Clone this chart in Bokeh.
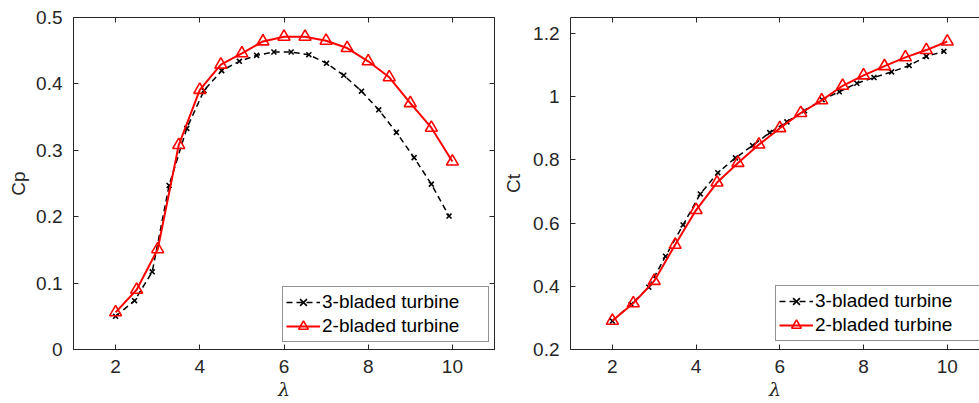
from bokeh.plotting import figure
from bokeh.layouts import row
from bokeh.models import LinearAxis, FixedTicker, Legend, LegendItem, Range1d
from bokeh.embed import file_html
from bokeh.resources import INLINE

# ---- data ----
lam3 = [2.0, 2.45, 2.87, 3.27, 3.69, 4.1, 4.52, 4.94, 5.35, 5.76,
        6.17, 6.59, 7.01, 7.42, 7.84, 8.25, 8.67, 9.09, 9.5, 9.92]
lam2 = [2.0, 2.5, 3.0, 3.5, 4.0, 4.5, 5.0, 5.5, 6.0, 6.5,
        7.0, 7.5, 8.0, 8.5, 9.0, 9.5, 10.0]

cp3 = [0.05, 0.0735, 0.117, 0.247, 0.333, 0.39, 0.42, 0.434, 0.443, 0.448,
       0.448, 0.444, 0.431, 0.413, 0.389, 0.361, 0.327, 0.289, 0.249, 0.201]
cp2 = [0.056, 0.09, 0.151, 0.308, 0.391, 0.429, 0.446, 0.464, 0.471, 0.471,
       0.465, 0.454, 0.434, 0.41, 0.371, 0.334, 0.283]

ct3 = [0.29, 0.343, 0.397, 0.495, 0.594, 0.692, 0.759, 0.806, 0.845, 0.886,
       0.92, 0.955, 0.99, 1.015, 1.042, 1.06, 1.078, 1.098, 1.127, 1.143]
ct2 = [0.291, 0.346, 0.417, 0.531, 0.641, 0.728, 0.79, 0.848, 0.9, 0.948,
       0.988, 1.034, 1.067, 1.096, 1.124, 1.147, 1.174]

x_ticks = [2, 4, 6, 8, 10]
cp_ticks = [0, 0.1, 0.2, 0.3, 0.4, 0.5]
ct_ticks = [0.2, 0.4, 0.6, 0.8, 1.0, 1.2]
label3 = "3-bladed turbine"
label2 = "2-bladed turbine"
x_label = "λ"

AX = "#262626"
FONT = "Liberation Sans"
FS = "19px"


def style_axis(ax, ticks, show_labels=True, standoff=9):
    ax.ticker = FixedTicker(ticks=ticks)
    ax.major_tick_in = 5
    ax.major_tick_out = 0
    ax.minor_tick_line_color = None
    ax.axis_line_color = AX
    ax.major_tick_line_color = AX
    ax.major_label_text_font = FONT
    if show_labels:
        ax.major_label_text_color = AX
        ax.major_label_text_font_size = FS
        ax.major_label_standoff = standoff
    else:
        ax.major_label_text_color = None
        ax.major_label_text_font_size = "1px"
        ax.major_label_standoff = 0


def make_panel(width, height, xr, yr, yticks, ylabel, yfmt, mb, y_label_standoff,
               y1, y2, legend_loc, box_right=True):
    p = figure(width=width, height=height, output_backend="svg", toolbar_location=None,
               x_range=xr, y_range=yr, x_axis_type=None, y_axis_type=None,
               min_border_left=mb[0], min_border_right=mb[1],
               min_border_top=mb[2], min_border_bottom=mb[3])
    p.grid.visible = False
    p.background_fill_color = "white"
    p.border_fill_color = "white"
    if box_right:
        p.outline_line_color = AX
        p.outline_line_width = 1
    else:
        p.outline_line_color = None

    xb = LinearAxis(axis_label=x_label)
    style_axis(xb, x_ticks, True, 10)
    xb.axis_label_text_font = "DejaVu Serif"
    xb.axis_label_text_font_style = "italic"
    xb.axis_label_text_font_size = FS
    xb.axis_label_text_color = AX
    xb.axis_label_standoff = 2
    p.add_layout(xb, "below")
    xa = LinearAxis()
    style_axis(xa, x_ticks, False)
    p.add_layout(xa, "above")

    yl = LinearAxis(axis_label=ylabel)
    style_axis(yl, yticks, True, 11)
    yl.major_label_overrides = yfmt
    yl.axis_label_text_font = FONT
    yl.axis_label_text_font_size = FS
    yl.axis_label_text_font_style = "normal"
    yl.axis_label_text_color = AX
    yl.axis_label_standoff = y_label_standoff
    p.add_layout(yl, "left")
    if box_right:
        yr_ax = LinearAxis()
        style_axis(yr_ax, yticks, False)
        p.add_layout(yr_ax, "right")

    l3 = p.line(lam3, y1, line_color="black", line_width=1.5, line_dash="6 4")
    s3 = p.scatter(lam3, y1, marker="x", size=7, line_color="black", line_width=1.6)
    l2 = p.line(lam2, y2, line_color="#ff0000", line_width=2)
    s2 = p.scatter(lam2, y2, marker="triangle", size=12, line_color="#ff0000",
                   line_width=1.6, fill_color=None)

    leg = Legend(items=[LegendItem(label=label3, renderers=[l3, s3]),
                        LegendItem(label=label2, renderers=[l2, s2])],
                 location=legend_loc)
    leg.border_line_color = AX
    leg.border_line_width = 1
    leg.background_fill_color = "white"
    leg.background_fill_alpha = 1.0
    leg.label_text_font = FONT
    leg.label_text_font_size = FS
    leg.label_text_color = "black"
    leg.glyph_width = 34
    leg.glyph_height = 24
    leg.label_height = 24
    leg.label_width = 163
    leg.label_standoff = 2
    leg.padding = 3
    leg.spacing = 0
    leg.margin = 0
    p.add_layout(leg)
    return p


p1 = make_panel(500, 403, Range1d(1, 11), Range1d(0, 0.5), cp_ticks, "Cp",
                {0: "0"}, (73, 6, 17, 53), 4, cp3, cp2, (209, 7), True)
p2 = make_panel(479, 403, Range1d(1, 10.77), Range1d(0.2, 1.25), ct_ticks, "Ct",
                {1.0: "1", 1: "1"}, (68, 0, 12, 54), 6, ct3, ct2, (205, 8), False)

layout = row(p1, p2)
open("out.html", "w").write(file_html(layout, INLINE))
